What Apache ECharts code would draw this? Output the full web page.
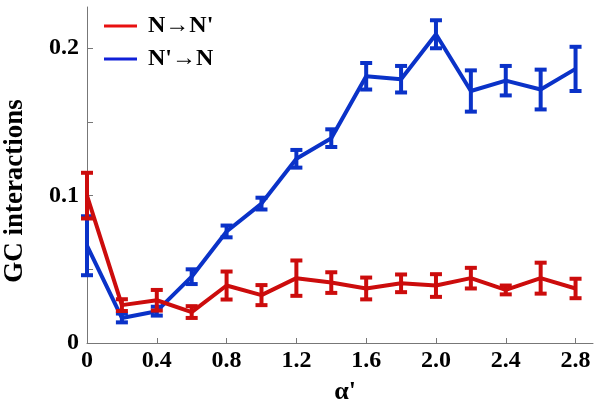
<!DOCTYPE html>
<html>
<head>
<meta charset="utf-8">
<script src="https://cdn.jsdelivr.net/npm/echarts@6/dist/echarts.min.js"></script>
<style>html,body{margin:0;padding:0;background:#fff}#c{width:600px;height:410px}</style>
</head>
<body>
<div id="c"></div>
<script>
// alpha' values
const alphas = [0, 0.2, 0.4, 0.6, 0.8, 1.0, 1.2, 1.4, 1.6, 1.8, 2.0, 2.2, 2.4, 2.6, 2.8];
// N -> N'
const redVals = [0.100, 0.0257, 0.029, 0.021, 0.039, 0.0325, 0.044, 0.041, 0.037, 0.0405, 0.039, 0.044, 0.036, 0.044, 0.037];
const redErr  = [0.0155, 0.004, 0.007, 0.004, 0.0095, 0.0068, 0.012, 0.007, 0.0074, 0.006, 0.0077, 0.007, 0.003, 0.0105, 0.0066];
// N' -> N
const blueVals = [0.066, 0.017, 0.0216, 0.045, 0.0757, 0.0946, 0.125, 0.139, 0.181, 0.179, 0.2095, 0.171, 0.178, 0.172, 0.186];
const blueErr  = [0.020, 0.003, 0.003, 0.005, 0.004, 0.004, 0.006, 0.006, 0.009, 0.009, 0.0095, 0.014, 0.010, 0.0135, 0.015];
const seriesNames = ["N\u2192N'", "N'\u2192N"];
const xTicks = [0, 0.4, 0.8, 1.2, 1.6, 2.0, 2.4, 2.8];
const yLabels = [0, 0.1, 0.2];
const yTicks = [0, 0.05, 0.1, 0.15, 0.2];

const RED = '#cc0c0c', BLUE = '#0a32c8';
const FONT = 'Liberation Serif';

function pts(vals) { return alphas.map((a, i) => [a, vals[i]]); }
function errData(vals, errs) { return alphas.map((a, i) => [a, vals[i], errs[i]]); }
function errRender(color) {
  return function (params, api) {
    const x = api.value(0), y = api.value(1), e = api.value(2);
    const top = api.coord([x, y + e]);
    const bot = api.coord([x, y - e]);
    const hw = 6;
    const st = { stroke: color, lineWidth: 4 };
    return {
      type: 'group',
      children: [
        { type: 'line', shape: { x1: top[0], y1: top[1], x2: bot[0], y2: bot[1] }, style: st },
        { type: 'line', shape: { x1: top[0] - hw, y1: top[1], x2: top[0] + hw, y2: top[1] }, style: st },
        { type: 'line', shape: { x1: bot[0] - hw, y1: bot[1], x2: bot[0] + hw, y2: bot[1] }, style: st }
      ]
    };
  };
}

const chart = echarts.init(document.getElementById('c'), null, { renderer: 'canvas' });
chart.setOption({
  animation: false,
  backgroundColor: '#fff',
  grid: { left: 87, right: 7, top: 7, bottom: 65 },
  legend: {
    orient: 'vertical', left: 99, top: 9, itemWidth: 33, itemHeight: 3, itemGap: 9,
    icon: 'rect',
    textStyle: { fontFamily: FONT, fontWeight: 'bold', fontSize: 24, color: '#000', padding: [0, 0, 0, 6] },
    data: [
      { name: seriesNames[0], itemStyle: { color: '#e81010' } },
      { name: seriesNames[1], itemStyle: { color: '#1020d8' } }
    ]
  },
  xAxis: {
    type: 'value', min: 0, max: 2.9, interval: 0.4,
    name: "\u03b1'", nameLocation: 'middle', nameGap: 36,
    nameTextStyle: { fontFamily: FONT, fontWeight: 'bold', fontSize: 26, color: '#000', padding: [0, 0, 0, 10] },
    axisLine: { lineStyle: { color: '#777', width: 1 } },
    axisTick: { inside: true, length: 5, lineStyle: { color: '#777' }, customValues: xTicks },
    splitLine: { show: false },
    axisLabel: {
      customValues: xTicks, margin: 6,
      fontFamily: FONT, fontWeight: 'bold', fontSize: 24, color: '#000',
      formatter: v => (v === 0 ? '0' : v.toFixed(1))
    }
  },
  yAxis: {
    type: 'value', min: 0, max: 0.228, interval: 0.05,
    axisLine: { show: true, lineStyle: { color: '#777', width: 1 } },
    axisTick: { show: true, inside: true, length: 6, lineStyle: { color: '#777' }, customValues: yTicks },
    splitLine: { show: false },
    axisLabel: {
      customValues: yLabels, margin: 8,
      fontFamily: FONT, fontWeight: 'bold', fontSize: 24, color: '#000',
      formatter: v => (v === 0 ? '0' : String(Math.round(v * 10) / 10))
    }
  },
  graphic: [{
    type: 'text', x: 15, y: 191, rotation: Math.PI / 2,
    style: { text: 'GC interactions', fontFamily: FONT, fontWeight: 'bold', fontSize: 27, fill: '#000', align: 'center', verticalAlign: 'middle' }
  }],
  series: [
    { name: seriesNames[1], type: 'line', data: pts(blueVals), symbol: 'none', lineStyle: { color: BLUE, width: 4 }, itemStyle: { color: BLUE }, z: 2 },
    { name: seriesNames[1] + ' err', type: 'custom', data: errData(blueVals, blueErr), renderItem: errRender(BLUE), z: 2 },
    { name: seriesNames[0], type: 'line', data: pts(redVals), symbol: 'none', lineStyle: { color: RED, width: 4 }, itemStyle: { color: RED }, z: 3 },
    { name: seriesNames[0] + ' err', type: 'custom', data: errData(redVals, redErr), renderItem: errRender(RED), z: 3 }
  ]
});
</script>
</body>
</html>
